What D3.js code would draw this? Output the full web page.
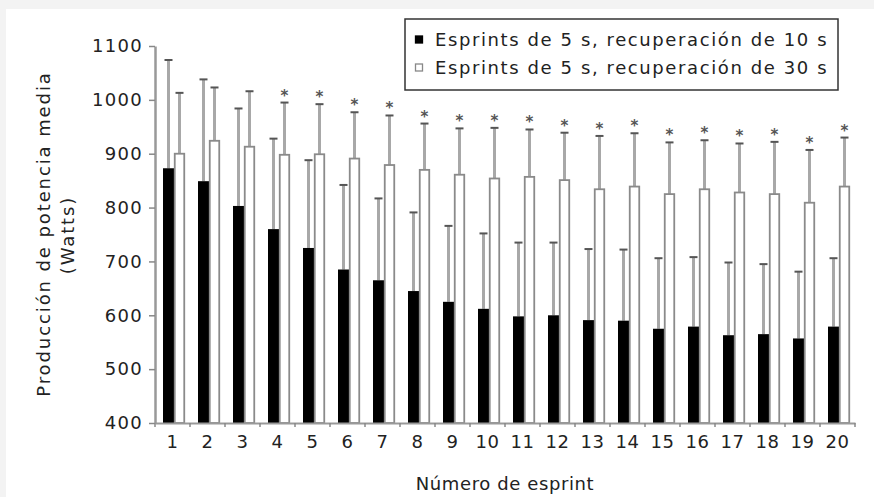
<!DOCTYPE html>
<html>
<head>
<meta charset="utf-8">
<script src="https://cdn.jsdelivr.net/npm/d3@7"></script>
<style>
  html, body { margin: 0; padding: 0; background: #f3f3f3; }
  svg { display: block; }
  text { font-family: "DejaVu Sans", Verdana, sans-serif; fill: #222; }
</style>
</head>
<body>
<svg id="chart" width="874" height="497"></svg>
<script>
// Sprint number (categories)
const sprints = ["1","2","3","4","5","6","7","8","9","10","11","12","13","14","15","16","17","18","19","20"];
// Mean power output (W), 5 s sprints with 10 s recovery
const mean10 = [873, 849, 803, 760, 725, 685, 665, 645, 625, 612, 598, 600, 591, 590, 575, 579, 563, 565, 557, 579];
const sd10   = [201, 189, 181, 168, 163, 157, 152, 146, 141, 140, 137, 135, 132, 132, 131, 129, 135, 130, 124, 127];
// Mean power output (W), 5 s sprints with 30 s recovery
const mean30 = [900, 924, 913, 898, 899, 891, 879, 870, 861, 854, 857, 851, 834, 839, 825, 834, 828, 825, 809, 839];
const sd30   = [113,  99, 103,  97,  93,  86,  92,  86,  86,  94,  88,  88,  99,  99,  96,  91,  91,  97,  98,  91];
// Significant difference between conditions
const significant = [false,false,false,true,true,true,true,true,true,true,true,true,true,true,true,true,true,true,true,true];
const yTicks = [400, 500, 600, 700, 800, 900, 1000, 1100];
const seriesLabels = ["Esprints de 5 s, recuperación de 10 s", "Esprints de 5 s, recuperación de 30 s"];

const svg = d3.select("#chart");

// white panel
svg.append("rect").attr("x", 6).attr("y", 9).attr("width", 868).attr("height", 488).attr("fill", "#fff");

const y = d3.scaleLinear().domain([400, 1100]).range([423, 46]);
const x = d3.scaleBand().domain(sprints).range([155, 855]).padding(0);
const sub = d3.scaleBand().domain(["10", "30"]).range([8, 30]).padding(0);
const bw = sub.bandwidth();

const rows = sprints.map((s, i) => ({
  s, m10: mean10[i], e10: sd10[i], m30: mean30[i], e30: sd30[i], sig: significant[i]
}));

const g = svg.append("g");

// error bars (drawn first, bars sit over the lower part)
function errorBar(sel, key, sdKey) {
  const mk = key === "10" ? "m10" : "m30";
  const cx = d => x(d.s) + sub(key) + bw / 2;
  sel.append("line")
    .attr("x1", cx).attr("x2", cx)
    .attr("y1", d => y(d[mk]))
    .attr("y2", d => y(d[mk] + d[sdKey]))
    .attr("stroke", "#a8a8a8").attr("stroke-width", 3);
  sel.append("line")
    .attr("x1", d => cx(d) - 4).attr("x2", d => cx(d) + 4)
    .attr("y1", d => y(d[mk] + d[sdKey]))
    .attr("y2", d => y(d[mk] + d[sdKey]))
    .attr("stroke", "#555").attr("stroke-width", 2);
}

const grp = g.selectAll("g.cat").data(rows).join("g").attr("class", "cat");
errorBar(grp, "10", "e10");
errorBar(grp, "30", "e30");

// black bars
grp.append("rect")
  .attr("x", d => x(d.s) + sub("10"))
  .attr("y", d => y(d.m10))
  .attr("width", bw)
  .attr("height", d => y(400) - y(d.m10))
  .attr("fill", "#000");

// white bars
grp.append("rect")
  .attr("x", d => x(d.s) + sub("30") + 0.75)
  .attr("y", d => y(d.m30))
  .attr("width", bw - 1.5)
  .attr("height", d => y(400) - y(d.m30))
  .attr("fill", "#fff").attr("stroke", "#8a8a8a").attr("stroke-width", 1.8);

// significance markers
grp.filter(d => d.sig).append("text")
  .attr("x", d => x(d.s) + sub("30") + bw / 2)
  .attr("y", d => y(d.m30 + d.e30) - 11)
  .attr("dy", "0.6em")
  .attr("text-anchor", "middle")
  .style("font-size", "15px").style("font-weight", "bold").style("fill", "#555")
  .text("*");

// y axis
const yAxis = svg.append("g").attr("transform", "translate(155,0)")
  .call(d3.axisLeft(y).tickValues(yTicks).tickFormat(d3.format("d"))
    .tickSize(6).tickSizeOuter(0).tickPadding(6));
yAxis.select(".domain").attr("stroke", "#999").attr("stroke-width", 2.5);
yAxis.selectAll(".tick line").attr("stroke", "#888").attr("stroke-width", 1.5);
yAxis.selectAll(".tick text").style("font-size", "18px").style("letter-spacing", "1.3px")
  .style("font-family", "DejaVu Sans, sans-serif").attr("fill", "#222");

// x axis
const xAxis = svg.append("g").attr("transform", "translate(0,423)")
  .call(d3.axisBottom(x).tickSize(0).tickSizeOuter(0).tickPadding(12));
xAxis.select(".domain").attr("stroke", "#999").attr("stroke-width", 2);
xAxis.selectAll(".tick text").style("font-size", "18px").style("letter-spacing", "0.5px")
  .style("font-family", "DejaVu Sans, sans-serif").attr("fill", "#222");
// boundary ticks between sprints
const bounds = sprints.map(s => x(s)).concat([x.range()[1]]);
xAxis.selectAll("line.bound").data(bounds).join("line").attr("class", "bound")
  .attr("x1", d => d).attr("x2", d => d).attr("y1", 0).attr("y2", 4)
  .attr("stroke", "#888").attr("stroke-width", 1.5);

// axis titles
svg.append("text").attr("transform", "translate(50,234) rotate(-90)")
  .attr("text-anchor", "middle").style("font-size", "18px").style("letter-spacing", "1.9px")
  .text("Producción de potencia media");
svg.append("text").attr("transform", "translate(74,235) rotate(-90)")
  .attr("text-anchor", "middle").style("font-size", "18px").style("letter-spacing", "1.9px")
  .text("(Watts)");
svg.append("text").attr("x", 505).attr("y", 490)
  .attr("text-anchor", "middle").style("font-size", "18px").style("letter-spacing", "0.6px")
  .text("Número de esprint");

// legend
const lg = svg.append("g");
lg.append("rect").attr("x", 405).attr("y", 19).attr("width", 433).attr("height", 71)
  .attr("fill", "#fff").attr("stroke", "#333").attr("stroke-width", 1.5);
const items = lg.selectAll("g.item").data(seriesLabels).join("g").attr("class", "item")
  .attr("transform", (d, i) => `translate(0,${40 + i * 28})`);
items.append("rect").attr("x", 415.5).attr("y", -4).attr("width", 7).attr("height", 7)
  .attr("fill", (d, i) => i === 0 ? "#000" : "#fff")
  .attr("stroke", (d, i) => i === 0 ? "#000" : "#888").attr("stroke-width", 1.3);
items.append("text").attr("x", 435).attr("dy", "0.36em")
  .style("font-size", "18px").style("letter-spacing", "1.6px")
  .text(d => d);
</script>
</body>
</html>
